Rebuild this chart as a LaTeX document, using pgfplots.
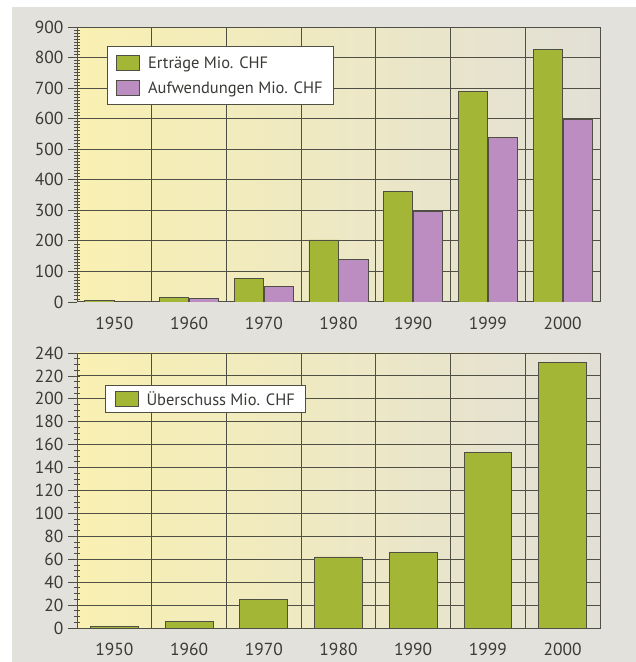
\documentclass[border=0pt]{standalone}
\usepackage{pgfplots}
\pgfplotsset{compat=1.18}
\usepackage{fontspec}
\setmainfont{PT Sans}

\definecolor{ertrag}{HTML}{A3B636}
\definecolor{aufw}{HTML}{BC8DC0}
\definecolor{gridc}{HTML}{4F4F45}
\definecolor{txt}{HTML}{3A3A36}
\definecolor{bgout}{HTML}{E3E1DC}
\definecolor{plotA}{HTML}{F9F0B2}
\definecolor{plotB}{HTML}{E2E0D6}

\pgfplotsset{
  chf/.style={
    scale only axis,
    width=523bp, height=275bp,
    xmin=-0.5, xmax=6.5,
    xtick={0,...,6},
    xticklabels={1950,1960,1970,1980,1990,1999,2000},
    xtick style={draw=none},
    extra x ticks={-0.5,0.5,...,6.5},
    extra x tick labels={},
    extra x tick style={grid=major, tick style={draw=gridc, line width=0.8pt}, major tick length=6bp},
    extra y tick labels={},
    extra y tick style={grid=none, major tick length=5bp, tick align=center, tick style={draw=gridc, line width=1pt}},
    ymin=0, ymajorgrids=true,
    ytick pos=left, tick align=outside,
    major tick length=9bp,
    grid style={gridc, line width=1pt},
    axis line style={gridc, line width=1pt},
    ytick style={gridc, line width=0.8pt},
    axis background/.style={left color=plotA, right color=plotB},
    tick label style={txt, font=\fontsize{17.5}{17.5}\selectfont},
    /pgf/number format/assume math mode=true,
    xticklabel style={yshift=-3bp},
    yticklabel style={xshift=-1bp},
    ybar, ybar=0pt,
    legend style={draw=gridc, line width=0.8pt, fill=white, text=txt,
      font=\fontsize{16.5}{18}\selectfont, row sep=8bp, column sep=6bp,
      inner xsep=9bp, inner ysep=8bp},
    legend cell align=left,
    legend image code/.code={\draw[#1] (0bp,-7.5bp) rectangle (23bp,7.5bp);},
  },
}

\begin{document}
\begin{tikzpicture}
\useasboundingbox (0,0) rectangle (636bp,662bp);
\fill[bgout] (0,0) rectangle (636bp,662bp);
\fill[white] (0,0) rectangle (12bp,662bp);
\fill[white] (0,655bp) rectangle (636bp,662bp);

% Ertraege und Aufwendungen
\begin{axis}[chf, at={(77bp,360bp)}, anchor=south west,
    ymax=900, ytick={0,100,...,900}, extra y ticks={10,20,...,890},
    bar width=0.39,
    legend style={at={(0.057,0.931)}, anchor=north west}]
  \addplot[fill=ertrag, draw=gridc, line width=0.9pt, bar shift=-0.2] coordinates {
    (0,4) (1,16) (2,77) (3,203) (4,361) (5,688) (6,825)
  };
  \addplot[fill=aufw, draw=gridc, line width=0.9pt, bar shift=0.2] coordinates {
    (0,3) (1,10) (2,52) (3,140) (4,297) (5,538) (6,597)
  };
  \legend{Erträge Mio. CHF, Aufwendungen Mio. CHF}
\end{axis}

% Ueberschuss
\begin{axis}[chf, at={(77bp,34bp)}, anchor=south west,
    ymax=240, ytick={0,20,...,240}, extra y ticks={5,10,...,235},
    bar width=0.64,
    legend style={at={(0.054,0.884)}, anchor=north west, inner ysep=4bp}]
  \addplot[fill=ertrag, draw=gridc, line width=0.9pt, bar shift=0] coordinates {
    (0,1.5) (1,6) (2,25) (3,62) (4,66) (5,153) (6,232)
  };
  \legend{Überschuss Mio. CHF}
\end{axis}
\end{tikzpicture}
\end{document}
